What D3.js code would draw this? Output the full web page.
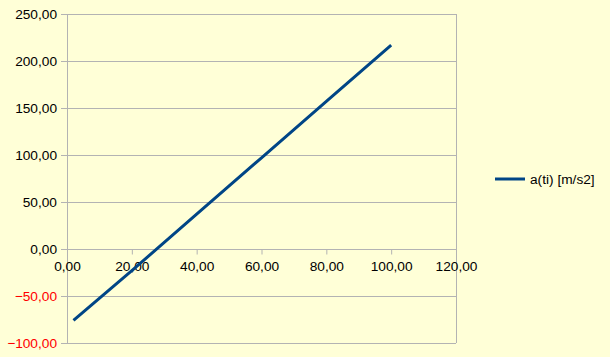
<!DOCTYPE html>
<html>
<head>
<meta charset="utf-8">
<script src="https://cdn.jsdelivr.net/npm/d3@7"></script>
<style>
  body { margin: 0; background: #ffffd7; }
  svg { display: block; }
  text { font-family: "Liberation Sans", Arial, sans-serif; font-size: 13.7px; }
</style>
</head>
<body>
<div id="chart"></div>
<script>
// values
var times = [2, 20, 40, 60, 80, 100];
var accel = [-76, -23, 37, 97, 157, 217];
var seriesName = "a(ti) [m/s2]";
var xTicks = [0, 20, 40, 60, 80, 100, 120];
var yTicks = [-100, -50, 0, 50, 100, 150, 200, 250];

var width = 610, height = 357;
var margin = {left: 67, top: 14, right: 154, bottom: 14};

var fmt = function(v) { return d3.format(".2f")(v).replace(".", ","); };

var svg = d3.select("#chart")
    .append("svg")
    .attr("width", width)
    .attr("height", height);

svg.append("rect")
    .attr("width", width)
    .attr("height", height)
    .attr("fill", "#ffffd7");

var x = d3.scaleLinear()
    .domain([0, 120])
    .range([margin.left, width - margin.right]);

var y = d3.scaleLinear()
    .domain([-100, 250])
    .range([height - margin.bottom, margin.top]);

// horizontal grid + y ticks
svg.append("g")
    .selectAll("line")
    .data(yTicks)
    .enter()
    .append("line")
    .attr("x1", x(0) - 6)
    .attr("x2", x(120))
    .attr("y1", function(d) { return Math.round(y(d)) + 0.5; })
    .attr("y2", function(d) { return Math.round(y(d)) + 0.5; })
    .attr("stroke", "#b3b3b3");

// y axis and right border
svg.append("line")
    .attr("x1", x(0) + 0.5).attr("x2", x(0) + 0.5)
    .attr("y1", y(250)).attr("y2", y(-100))
    .attr("stroke", "#b3b3b3");
svg.append("line")
    .attr("x1", Math.round(x(120)) + 0.5).attr("x2", Math.round(x(120)) + 0.5)
    .attr("y1", y(250)).attr("y2", y(-100))
    .attr("stroke", "#b3b3b3");

svg.append("g")
    .selectAll("text")
    .data(yTicks)
    .enter()
    .append("text")
    .attr("x", x(0) - 10)
    .attr("y", function(d) { return y(d); })
    .attr("dy", "0.35em")
    .attr("text-anchor", "end")
    .attr("fill", function(d) { return d < 0 ? "#ff0000" : "#000"; })
    .text(fmt);

// x axis crosses at y = 0
var xAxis = d3.axisBottom(x)
    .tickValues(xTicks)
    .tickSize(5)
    .tickPadding(7)
    .tickFormat(fmt);

var gx = svg.append("g")
    .attr("transform", "translate(0," + (Math.round(y(0)) + 0.5) + ")")
    .call(xAxis);
gx.select(".domain").remove();
gx.selectAll("line").attr("stroke", "#b3b3b3");
gx.selectAll("text")
    .attr("fill", "#000")
    .style("font-family", "'Liberation Sans', Arial, sans-serif")
    .style("font-size", "13.7px");

// series
var pts = times.map(function(t, i) { return [t, accel[i]]; });
var line = d3.line()
    .x(function(d) { return x(d[0]); })
    .y(function(d) { return y(d[1]); });

svg.append("path")
    .datum(pts)
    .attr("d", line)
    .attr("fill", "none")
    .attr("stroke", "#004586")
    .attr("stroke-width", 3);

// legend
var legend = svg.append("g")
    .attr("transform", "translate(495,179)");
legend.append("line")
    .attr("x1", 0).attr("x2", 30)
    .attr("stroke", "#004586")
    .attr("stroke-width", 3);
legend.append("text")
    .attr("x", 35)
    .attr("dy", "0.35em")
    .text(seriesName);
</script>
</body>
</html>
